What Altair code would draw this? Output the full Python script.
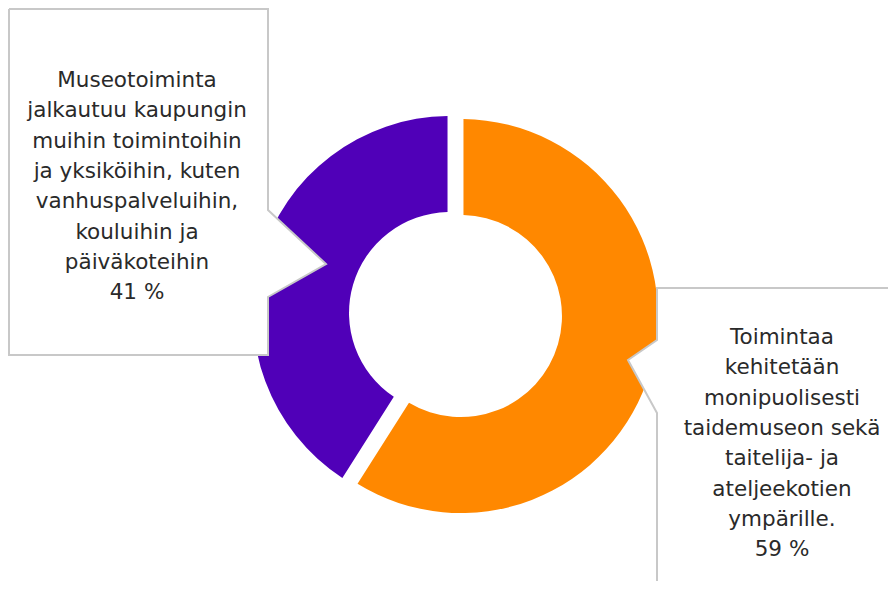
import altair as alt
import pandas as pd

# ---- data ----
categories = [
    "Toimintaa\nkehitetään\nmonipuolisesti\ntaidemuseon sekä\ntaitelija- ja\nateljeekotien\nympärille.",
    "Museotoiminta\njalkautuu kaupungin\nmuihin toimintoihin\nja yksiköihin, kuten\nvanhuspalveluihin,\nkouluihin ja\npäiväkoteihin",
]
values = [59, 41]
colors = ["#FF8800", "#5000B8"]

W, H = 880, 573
CX, CY = 447.5, 306.5
R_OUT, R_IN = 197, 101
EXPLODE = 5.7

donut_df = pd.DataFrame({"category": categories, "value": values, "order": list(range(len(values)))})

arc = (
    alt.Chart(donut_df)
    .transform_joinaggregate(total="sum(value)")
    .transform_window(cum="sum(value)", sort=[alt.SortField("order")], frame=[None, 0])
    .transform_calculate(mid="(datum.cum - datum.value / 2) / datum.total * 2 * PI")
    .transform_calculate(
        px=f"{CX} + {EXPLODE} * sin(datum.mid)",
        py=f"{CY} - {EXPLODE} * cos(datum.mid)",
    )
    .mark_arc(outerRadius=R_OUT, innerRadius=R_IN, padAngle=0.0226)
    .encode(
        theta=alt.Theta("value:Q", stack=True),
        order=alt.Order("order:Q"),
        x=alt.X("px:Q", scale=None, axis=None),
        y=alt.Y("py:Q", scale=None, axis=None),
        color=alt.Color("category:N", scale=alt.Scale(domain=categories, range=colors), legend=None),
    )
)

# ---- callout boxes (decoration, pixel coordinates) ----
def callout_fill(rows):
    df = pd.DataFrame(rows, columns=["y", "x0", "x1"])
    return alt.Chart(df).mark_area(orient="horizontal", color="white", opacity=1).encode(
        y=alt.Y("y:Q", scale=None, axis=None),
        x=alt.X("x0:Q", scale=None, axis=None, stack=False),
        x2="x1:Q",
    )

def callout_line(pts):
    df = pd.DataFrame(pts, columns=["x", "y"])
    df["i"] = range(len(df))
    return alt.Chart(df).mark_line(color="#c8c8c8", strokeWidth=2).encode(
        x=alt.X("x:Q", scale=None, axis=None),
        y=alt.Y("y:Q", scale=None, axis=None),
        order="i:Q",
    )

left_fill = callout_fill([(1, 1, 260), (202, 1, 260), (256, 1, 318), (289, 1, 260), (347, 1, 260)])
left_line = callout_line([(1, 1), (260, 1), (260, 202), (318, 256), (260, 289), (260, 347), (1, 347), (1, 1)])
right_fill = callout_fill([(280, 649, 1000), (332, 649, 1000), (352, 620, 1000), (405, 649, 1000), (700, 649, 1000)])
right_line = callout_line([(1000, 280), (649, 280), (649, 332), (620, 352), (649, 405), (649, 700)])

text_df = pd.DataFrame({
    "label": [f"{c}\n{v} %" for c, v in zip(categories, values)],
})

def label_layer(i, x, y):
    return (
        alt.Chart(text_df.iloc[[i]])
        .mark_text(align="center", baseline="middle", lineBreak="\n", lineHeight=30.3,
                   font="DejaVu Sans", fontSize=21.5, color="#2a2a2a")
        .encode(x=alt.value(x), y=alt.value(y), text="label:N")
    )

chart = (
    alt.layer(arc, left_fill, right_fill, left_line, right_line,
              label_layer(1, 129, 73), label_layer(0, 774, 330))
    .properties(width=W, height=H, padding=0, autosize="none", background="white")
    .configure_view(stroke=None)
)

chart.save("out.html", embed_options={"renderer": "svg", "actions": False})
